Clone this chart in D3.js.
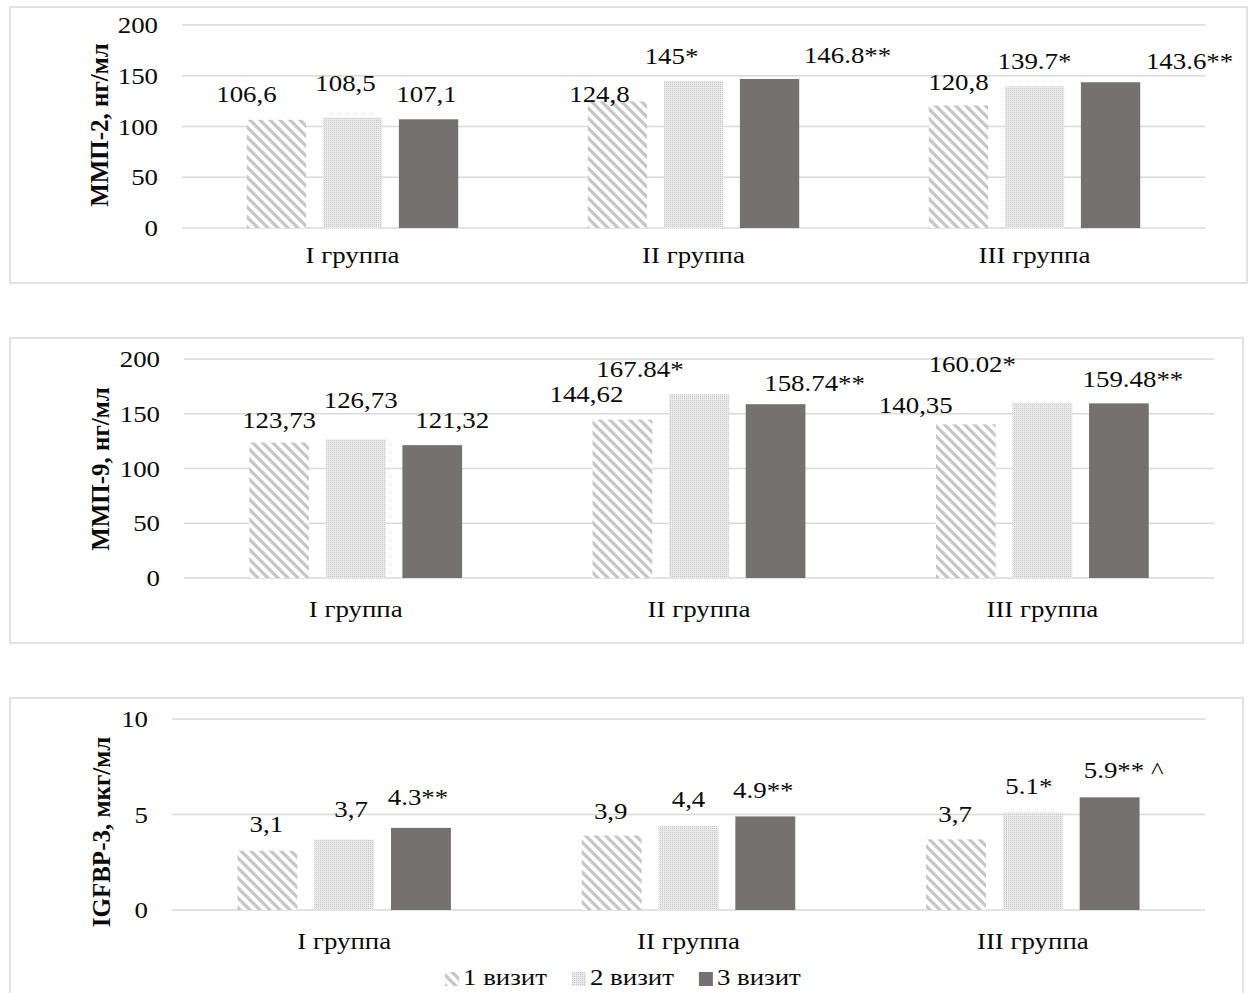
<!DOCTYPE html>
<html>
<head>
<meta charset="utf-8">
<script src="https://cdn.jsdelivr.net/npm/d3@7"></script>
<style>
  html, body { margin: 0; padding: 0; background: #fff; }
  svg { display: block; font-family: "Liberation Serif", "Times New Roman", serif; }
</style>
</head>
<body>
<svg id="chart" width="1254" height="993"></svg>
<script>
// data
const groups = ['I группа', 'II группа', 'III группа'];
const series = ['1 визит', '2 визит', '3 визит'];

const mmp2Values = [[106.6, 108.5, 107.1], [124.8, 145, 146.8], [120.8, 139.7, 143.6]];
const mmp2Labels = [['106,6', '108,5', '107,1'], ['124,8', '145*', '146.8**'], ['120,8', '139.7*', '143.6**']];

const mmp9Values = [[123.73, 126.73, 121.32], [144.62, 167.84, 158.74], [140.35, 160.02, 159.48]];
const mmp9Labels = [['123,73', '126,73', '121,32'], ['144,62', '167.84*', '158.74**'], ['140,35', '160.02*', '159.48**']];

const igfbpValues = [[3.1, 3.7, 4.3], [3.9, 4.4, 4.9], [3.7, 5.1, 5.9]];
const igfbpLabels = [['3,1', '3,7', '4.3**'], ['3,9', '4,4', '4.9**'], ['3,7', '5.1*', '5.9** ^']];

const mmpTicks = [0, 50, 100, 150, 200];
const igfbpTicks = [0, 5, 10];

// label nudges (manual placement in the original), px relative to bar centre / top
const nudge1 = [[[-30, -18], [-7, -27], [-2, -17]], [[-18, 1], [-22, -17], [78, -16]], [[0, -15], [0, -17], [79, -13]]];
const nudge2 = [[[0, -15], [5, -31], [20, -17]], [[-36, -18], [-59, -17], [39, -13]], [[-50, -11], [-70, -31], [14, -16]]];
const nudge3 = [[[-1, -19], [7, -22], [-3, -23]], [[-1, -17], [0, -19], [-2, -18]], [[-1, -17], [-4, -19], [14, -19]]];

const panels = [
  { title: 'ММП-2, нг/мл', values: mmp2Values, labels: mmp2Labels, ticks: mmpTicks, nudge: nudge1,
    box: [10, 7, 1247, 283], px: [182, 1205], py: [228, 25], titlePos: [99, 125], catDy: 35 },
  { title: 'ММП-9, нг/мл', values: mmp9Values, labels: mmp9Labels, ticks: mmpTicks, nudge: nudge2,
    box: [10, 338, 1243, 643], px: [184, 1214], py: [578, 359], titlePos: [100, 469], catDy: 39 },
  { title: 'IGFBP-3, мкг/мл', values: igfbpValues, labels: igfbpLabels, ticks: igfbpTicks, nudge: nudge3,
    box: [10, 698, 1243, 1010], px: [172, 1205], py: [910, 719], titlePos: [101, 832], catDy: 39 },
];

const SX = 1.12; // the original text looks stretched horizontally
const FS = 24;
const fills = ['url(#hatch)', 'url(#dots)', '#767171'];

const svg = d3.select('#chart');
svg.append('rect').attr('width', 1254).attr('height', 993).attr('fill', '#fff');

const defs = svg.append('defs');
const hatch = defs.append('pattern').attr('id', 'hatch')
  .attr('patternUnits', 'userSpaceOnUse').attr('width', 10).attr('height', 10);
hatch.append('rect').attr('width', 10).attr('height', 10).attr('fill', '#fff');
hatch.append('path').attr('d', 'M0,0L10,10M-2,8L2,12M8,-2L12,2')
  .attr('stroke', '#c6c6c6').attr('stroke-width', 3.2);

const dots = defs.append('pattern').attr('id', 'dots')
  .attr('patternUnits', 'userSpaceOnUse').attr('width', 2).attr('height', 2);
dots.append('rect').attr('width', 2).attr('height', 2).attr('fill', '#ebebeb');
dots.append('rect').attr('width', 1).attr('height', 1).attr('fill', '#c4c4c4');

function stext(g, x, y, str, anchor, size) {
  return g.append('text')
    .attr('transform', `translate(${x},${y}) scale(${SX},1)`)
    .attr('text-anchor', anchor || 'middle')
    .attr('font-size', size || FS)
    .attr('fill', '#0a0a0a')
    .text(str);
}

panels.forEach((p) => {
  const g = svg.append('g');
  const [bx0, by0, bx1, by1] = p.box;
  g.append('rect').attr('x', bx0).attr('y', by0).attr('width', bx1 - bx0).attr('height', by1 - by0)
    .attr('fill', 'none').attr('stroke', '#d9d9d9').attr('stroke-width', 1.5);

  const x0 = d3.scaleBand().domain(groups).range(p.px).paddingInner(0).paddingOuter(0);
  const bw = x0.bandwidth();
  const x1 = d3.scaleBand().domain(series).range([bw * 0.19, bw * 0.81]).paddingInner(0.22).paddingOuter(0);
  const y = d3.scaleLinear().domain([p.ticks[0], p.ticks[p.ticks.length - 1]]).range(p.py);

  // gridlines
  g.append('g').selectAll('line').data(p.ticks).join('line')
    .attr('x1', p.px[0]).attr('x2', p.px[1])
    .attr('y1', (d) => y(d)).attr('y2', (d) => y(d))
    .attr('stroke', '#d9d9d9').attr('stroke-width', 1.3);

  // tick labels
  p.ticks.forEach((t) => {
    stext(g, p.px[0] - 24, y(t), String(t), 'end').attr('dy', '0.34em');
  });

  // bars
  groups.forEach((grp, gi) => {
    series.forEach((s, si) => {
      const v = p.values[gi][si];
      const bx = x0(grp) + x1(s);
      g.append('rect')
        .attr('x', bx).attr('y', y(v))
        .attr('width', x1.bandwidth()).attr('height', y(0) - y(v))
        .attr('fill', fills[si]);
    });
  });

  // data labels
  groups.forEach((grp, gi) => {
    series.forEach((s, si) => {
      const v = p.values[gi][si];
      const cx = x0(grp) + x1(s) + x1.bandwidth() / 2;
      const [dx, dy] = p.nudge[gi][si];
      stext(g, cx + dx, y(v) + dy, p.labels[gi][si], 'middle');
    });
  });

  // category labels
  groups.forEach((grp) => {
    stext(g, x0(grp) + bw / 2, y(0) + p.catDy, grp, 'middle');
  });

  // axis title
  g.append('text')
    .attr('transform', `translate(${p.titlePos[0]},${p.titlePos[1]}) rotate(-90)`)
    .attr('text-anchor', 'middle').attr('dy', '0.35em')
    .attr('font-size', 25).attr('font-weight', 'bold').attr('fill', '#0a0a0a')
    .text(p.title);
});

// legend
const lg = svg.append('g');
let lx = 445;
series.forEach((s, si) => {
  lg.append('rect').attr('x', lx).attr('y', 972).attr('width', 14).attr('height', 14).attr('fill', fills[si]);
  const t = stext(lg, lx + 18, 985, s, 'start');
  const w = t.node().getComputedTextLength() * SX;
  lx += 18 + w + 25;
});
</script>
</body>
</html>
